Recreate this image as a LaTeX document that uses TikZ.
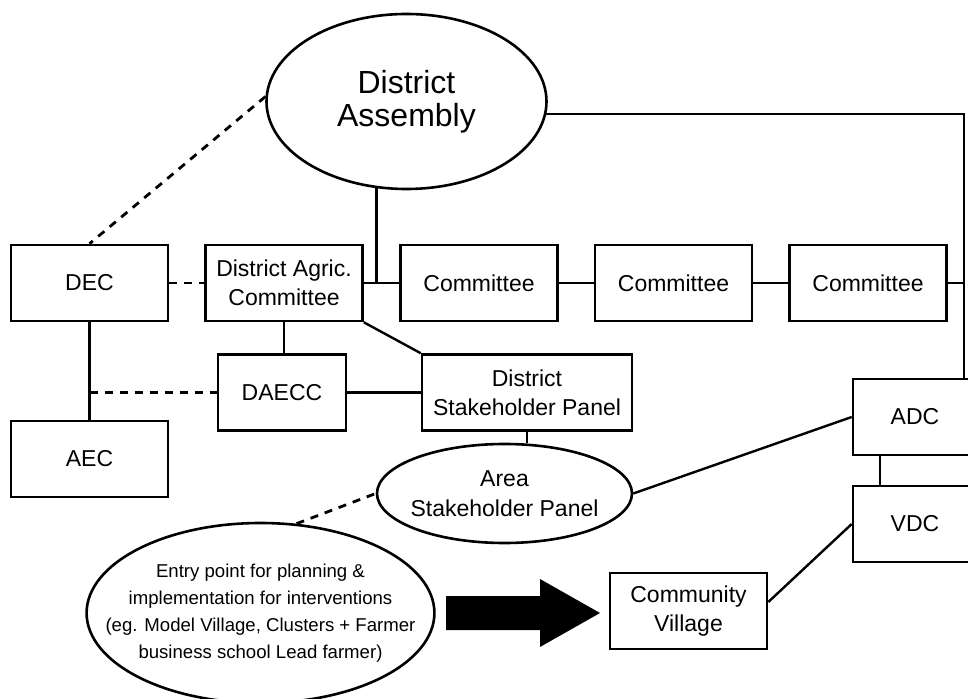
\documentclass[tikz,border=0pt]{standalone}
\usepackage{fontspec}
\setmainfont{Liberation Sans}
\usetikzlibrary{shapes}
\tikzstyle{Box}=[rectangle,draw,line width=1.3pt,inner sep=1pt,
minimum height=38pt,minimum width=78.5pt,align=center,
font=\fontsize{11.5}{14.5}\selectfont]
\tikzstyle{Oval}=[ellipse,draw,line width=1.3pt,inner sep=0pt,align=center]
\tikzstyle{Edge}=[draw,line width=1.2pt]
\tikzstyle{EdgeD}=[Edge,line width=1.4pt,dash pattern=on 4pt off 3.5pt]

\begin{document}
\begin{tikzpicture}[x=0.5pt,y=-0.5pt]
            \useasboundingbox(0,0)rectangle(968,699);
            \node[Oval,minimum width=140pt,minimum height=87.5pt,
                font=\fontsize{16}{16.5}\selectfont](DA)at(406.5,101.5)
                {District\\Assembly};
            \node[Box](DEC)at(89.5,283){DEC};
            \node[Box](DAC)at(284,283){District Agric.\\Committee};
            \node[Box](C1)at(479,283){Committee};
            \node[Box](C2)at(673.5,283){Committee};
            \node[Box](C3)at(868,283){Committee};
            \node[Box](AEC)at(89.5,459){AEC};
            \node[Box,minimum width=64pt](DAECC)at(282,392.5){DAECC};
            \node[Box,minimum width=105pt](DSP)at(527,392.5)
                {District\\Stakeholder Panel};
            \node[Oval,inner xsep=-4pt,minimum width=127.5pt,minimum height=49.5pt,
                font=\fontsize{11.5}{15}\selectfont](ASP)at(504.5,493.5)
                {Area\\Stakeholder Panel};
            \node[Box,minimum width=62pt](ADC)at(915,417){ADC};
            \node[Box,minimum width=62pt](VDC)at(915,524){VDC};
            \node[Box](CV)at(688.5,611){Community\\Village};
            \node[Oval,inner xsep=-16pt,minimum width=170pt,minimum height=90pt,
                font=\fontsize{9.3}{13.5}\selectfont](EP)at(260.5,613)
                {Entry point for planning \&\\implementation for interventions\\
                (eg. Model Village, Clusters + Farmer\\business school Lead farmer)};
            \coordinate(rail)at(964,0);
            \draw[Edge](DA.251)|-(DAC.east);
            \draw[Edge](DAC.east)--(C1.west);
            \draw[Edge](C1.east)--(C2.west);
            \draw[Edge](C2.east)--(C3.west);
            \draw[Edge](C3.east)--(C3.east-|rail);
            \draw[Edge](DA.-5.4)-|(ADC.north-|rail);
            \draw[EdgeD](DA.178)--(DEC.north);
            \draw[EdgeD](DEC.east)--(DAC.west);
            \draw[Edge](DEC.south)--(AEC.north);
            \draw[EdgeD](DEC.south|-DAECC.west)--(DAECC.west);
            \draw[Edge](DAC.south)--(DAC.south|-DAECC.north);
            \draw[Edge](DAC.south east)--(DSP.north west);
            \draw[Edge](DAECC.east)--(DSP.west);
            \draw[Edge](DSP.south)--(DSP.south|-ASP.north);
            \draw[Edge](ASP.east)--(ADC.west);
            \draw[Edge]([xshift=14pt]ADC.south west)--([xshift=14pt]VDC.north west);
            \draw[Edge](VDC.west)--([yshift=4.5pt]CV.east);
            \draw[EdgeD](EP.68)--(ASP.west);
            %
            \fill(446,596)--(540,596)--(540,579)--(600,613)--(540,647)
                --(540,630)--(446,630)--cycle;
        \end{tikzpicture}
\end{document}
